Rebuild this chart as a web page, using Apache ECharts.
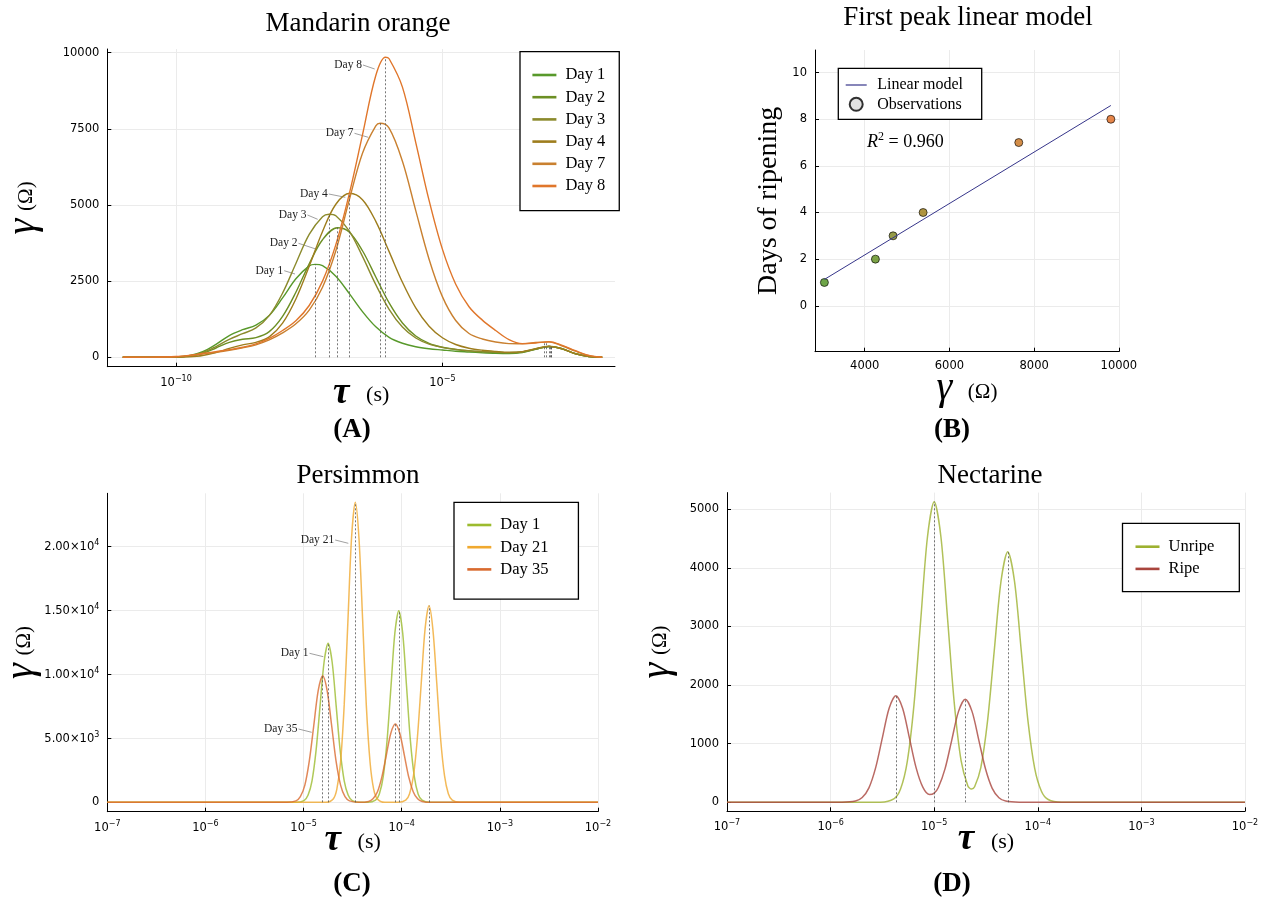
<!DOCTYPE html>
<html><head><meta charset="utf-8">
<script src="https://cdn.jsdelivr.net/npm/echarts@6.0.0/dist/echarts.min.js"></script>
<style>html,body{margin:0;padding:0;background:#fff}#c{width:1275px;height:900px}</style>
</head><body><div id="c"></div>
<script>
// ---------- Panel A: Mandarin orange (x = log10 tau) ----------
const logTauMandarin = [-11, -10.5, -10, -9.75, -9.5, -9.25, -9, -8.75, -8.5, -8.25, -8, -7.75, -7.5, -7.25, -7, -6.75, -6.5, -6.25, -6, -5.75, -5.5, -5.25, -5, -4.75, -4.5, -4.25, -4, -3.75, -3.5, -3.25, -3, -2.75, -2.5, -2.25, -2];
const mandarinDay1 = [0, 1, 11, 52, 182, 425, 714, 905, 1057, 1376, 1948, 2577, 3001, 3010, 2662, 2098, 1499, 999, 654, 461, 345, 279, 239, 200, 175, 150, 131, 123, 156, 262, 356, 280, 117, 27, 0];
const mandarinDay2 = [0, 1, 8, 38, 132, 305, 492, 593, 644, 841, 1342, 2135, 3068, 3860, 4240, 4116, 3498, 2636, 1784, 1127, 699, 458, 330, 257, 211, 180, 161, 148, 174, 271, 356, 277, 116, 26, 0];
const mandarinDay3 = [0, 1, 8, 45, 150, 352, 590, 774, 963, 1366, 2107, 3080, 4033, 4616, 4645, 4150, 3311, 2384, 1576, 993, 633, 433, 325, 260, 216, 187, 166, 152, 175, 270, 355, 277, 119, 27, 0];
const mandarinDay4 = [0, 0, 3, 14, 57, 156, 292, 407, 491, 672, 1121, 1914, 2988, 4130, 5025, 5383, 5175, 4460, 3469, 2463, 1623, 1018, 640, 419, 297, 231, 192, 166, 187, 285, 365, 274, 114, 25, 0];
const mandarinDay7 = [0, 3, 20, 55, 110, 165, 230, 310, 410, 570, 800, 1100, 1550, 2300, 3500, 5150, 6700, 7600, 7523, 6435, 4815, 3221, 1991, 1207, 780, 600, 500, 450, 445, 485, 505, 370, 200, 55, 0];
const mandarinDay8 = [0, 4, 25, 65, 125, 185, 250, 330, 440, 620, 880, 1200, 1700, 2500, 3700, 5350, 7300, 9250, 9800, 8870, 7050, 5150, 3550, 2400, 1660, 1220, 880, 580, 450, 470, 510, 390, 215, 65, 0];
const mandarinDays = ['Day 1', 'Day 2', 'Day 3', 'Day 4', 'Day 7', 'Day 8'];
const mandarinPeakTau = [-7.39, -6.97, -7.125, -6.74, -6.17, -6.07];
const mandarinPeakVal = [3050, 4255, 4695, 5384, 7682, 9850];
const mandarinTailTau = [-2.95, -2.95, -2.97, -3.0, -3.08, -3.05];
const mandarinTailVal = [358, 358, 356, 365, 510, 512];
const mandarinTicksX = [-10, -5];
const mandarinTicksY = [0, 2500, 5000, 7500, 10000];

// ---------- Panel B: First peak linear model ----------
const firstPeakGamma = [3049, 4253, 4670, 5379, 7637, 9811];
const ripeningDays = [1, 2, 3, 4, 7, 8];
const linearGamma = [3049, 9811];
const linearDays = [1.13, 8.59];
const modelTicksX = [4000, 6000, 8000, 10000];
const modelTicksY = [0, 2, 4, 6, 8, 10];

// ---------- Panel C: Persimmon ----------
const persDay1Tau = [-7, -5.078, -4.996, -4.955, -4.914, -4.873, -4.832, -4.791, -4.75, -4.709, -4.668, -4.627, -4.586, -4.545, -4.504, -4.422, -4.346, -4.267, -4.228, -4.188, -4.149, -4.109, -4.07, -4.03, -3.99, -3.951, -3.912, -3.872, -3.833, -3.793, -3.714, -2];
const persDay1Val = [0, 0, 138, 544, 1678, 4026, 7521, 10943, 12400, 10943, 7521, 4026, 1678, 544, 138, 0, 0, 166, 656, 2023, 4854, 9067, 13193, 14950, 13193, 9067, 4854, 2023, 656, 166, 0, 0];
const persDay21Tau = [-7, -4.773, -4.698, -4.661, -4.623, -4.586, -4.548, -4.511, -4.473, -4.436, -4.398, -4.361, -4.323, -4.286, -4.248, -4.173, -4.038, -3.959, -3.92, -3.88, -3.841, -3.801, -3.762, -3.722, -3.683, -3.643, -3.604, -3.564, -3.525, -3.485, -3.406, -2];
const persDay21Val = [0, 0, 260, 1027, 3166, 7598, 14192, 20650, 23400, 20650, 14192, 7598, 3166, 1027, 260, 0, 0, 170, 673, 2075, 4979, 9301, 13533, 15335, 13533, 9301, 4979, 2075, 673, 170, 0, 0];
const persDay35Tau = [-7, -5.169, -5.078, -5.033, -4.987, -4.942, -4.896, -4.851, -4.805, -4.76, -4.714, -4.669, -4.623, -4.578, -4.532, -4.441, -4.429, -4.338, -4.293, -4.247, -4.202, -4.156, -4.111, -4.065, -4.02, -3.974, -3.929, -3.883, -3.838, -3.792, -3.701, -2];
const persDay35Val = [0, 0, 110, 434, 1336, 3206, 5989, 8715, 9875, 8715, 5989, 3206, 1336, 434, 110, 0, 0, 68, 268, 826, 1983, 3704, 5389, 6107, 5389, 3704, 1983, 826, 268, 68, 0, 0];
const persDays = ['Day 1', 'Day 21', 'Day 35'];
const persPeakTau = [-4.75, -4.03, -4.473, -3.722, -4.805, -4.065];
const persPeakVal = [12400, 14950, 23400, 15335, 9875, 6107];
const persTicksY = [0, 5000, 10000, 15000, 20000];

// ---------- Panel D: Nectarine ----------
const nectUnripeTau = [-7, -5.52, -5.39, -5.325, -5.26, -5.195, -5.13, -5.065, -5.0, -4.935, -4.87, -4.805, -4.74, -4.675, -4.64, -4.61, -4.55, -4.485, -4.42, -4.355, -4.29, -4.225, -4.16, -4.095, -4.03, -3.965, -3.9, -3.77, -2];
const nectUnripeVal = [0, 2, 57, 225, 694, 1666, 3111, 4527, 5130, 4527, 3111, 1668, 705, 278, 226, 264, 592, 1390, 2593, 3774, 4276, 3774, 2593, 1388, 579, 188, 47, 1, 0];
const nectRipeTau = [-7, -5.89, -5.76, -5.695, -5.63, -5.565, -5.5, -5.435, -5.37, -5.305, -5.24, -5.175, -5.11, -5.045, -5.0, -4.96, -4.895, -4.83, -4.765, -4.7, -4.635, -4.57, -4.505, -4.44, -4.375, -4.31, -4.18, -2];
const nectRipeVal = [0, 1, 20, 80, 246, 591, 1103, 1605, 1819, 1605, 1103, 591, 258, 132, 155, 251, 574, 1066, 1551, 1758, 1551, 1066, 571, 238, 77, 20, 1, 0];
const nectNames = ['Unripe', 'Ripe'];
const nectPeakTau = [-5.0, -4.29, -5.37, -4.7];
const nectPeakVal = [5130, 4276, 1819, 1758];
const nectTicksY = [0, 1000, 2000, 3000, 4000, 5000];

// ---------- styling ----------
const SERIF = "'Liberation Serif', 'DejaVu Serif', serif";
const SANS = "'DejaVu Sans', sans-serif";
const colA = ['#58992b', '#6c8f24', '#8b8a2c', '#9e7d1d', '#c98030', '#e0762b'];
const obsColors = ['#4a8f1a', '#5b8c19', '#7b821a', '#9c7a10', '#c8711a', '#e0681d'];
const colC = ['#9cbb2e', '#f0a92f', '#d96a2f'];
const colD = ['#9db130', '#a9453d'];

const minus = n => (n < 0 ? '\u2212' + (-n) : '' + n);
const rich = {
  b: { fontFamily: SANS, fontSize: 11.5, color: '#000', verticalAlign: 'bottom' },
  s: { fontFamily: SANS, fontSize: 8, color: '#000', verticalAlign: 'bottom', padding: [0, 0, 6, 0] }
};
const powLabel = v => '{b|10}{s|' + minus(Math.round(v)) + '}';
const sciLabel = v => {
  if (v === 0) return '{b|0}';
  const e = Math.floor(Math.log10(v) + 1e-9);
  return '{b|' + (v / Math.pow(10, e)).toFixed(2) + '\u00d710}{s|' + e + '}';
};

function axisBase(gridIndex) {
  return {
    gridIndex, type: 'value', nameMoveOverlap: false,
    axisLine: { show: true, onZero: false, lineStyle: { color: '#000', width: 1 } },
    axisTick: { show: true, inside: true, length: 4, lineStyle: { color: '#000', width: 1 } },
    splitLine: { show: true, lineStyle: { color: '#ebebeb', width: 1 } },
    axisLabel: { color: '#000', fontFamily: SANS, fontSize: 11.5, margin: 8, rich: rich },
    nameLocation: 'middle'
  };
}
const gammaName = '{g|\u03b3}{sp|  }{o|(\u03a9)}';
const gammaNameWide = '{g|\u03b3}{sp|    }{o|(\u03a9)}';
const gammaRich = {
  g: { fontFamily: SERIF, fontStyle: 'italic', fontSize: 40, color: '#000', verticalAlign: 'bottom' },
  sp: { fontSize: 14, verticalAlign: 'bottom' },
  o: { fontFamily: SERIF, fontSize: 21, color: '#000', verticalAlign: 'bottom', padding: [0, 0, 6, 0] }
};
const tauName = '{t|\u03c4}{sp|   }{o|(s)}';
const tauRich = {
  t: { fontFamily: SERIF, fontStyle: 'italic', fontWeight: 'bold', fontSize: 37, color: '#000', verticalAlign: 'bottom' },
  sp: { fontSize: 20, verticalAlign: 'bottom' },
  o: { fontFamily: SERIF, fontSize: 22, color: '#000', verticalAlign: 'bottom', padding: [0, 0, 5, 0] }
};

function mergePeak(grid, vals, pTau, pVal) {
  const pts = [];
  grid.forEach((t, i) => { if (Math.abs(t - pTau) > 0.04) pts.push([t, vals[i]]); });
  pts.push([pTau, pVal]);
  pts.sort((a, b) => a[0] - b[0]);
  return pts;
}
const zip = (xs, ys) => xs.map((x, i) => [x, ys[i]]);
const dotted = { silent: true, symbol: 'none', animation: false, label: { show: false },
  lineStyle: { color: '#555', type: [2, 2], width: 0.8 } };
const vlines = (taus, vals) => taus.map((t, i) => [{ coord: [t, 0] }, { coord: [t, vals[i]] }]);

const series = [];
const mandarinData = [mandarinDay1, mandarinDay2, mandarinDay3, mandarinDay4, mandarinDay7, mandarinDay8];
mandarinDays.forEach((d, i) => {
  series.push({
    type: 'line', name: 'A:' + d, xAxisIndex: 0, yAxisIndex: 0,
    data: mergePeak(logTauMandarin, mandarinData[i], mandarinPeakTau[i], mandarinPeakVal[i]),
    smooth: 0.35, symbol: 'none', clip: true,
    lineStyle: { color: colA[i], width: 1.4 }, itemStyle: { color: colA[i] },
    markLine: Object.assign({}, dotted, { data: vlines([mandarinPeakTau[i], mandarinTailTau[i]], [mandarinPeakVal[i], mandarinTailVal[i]]) })
  });
});
series.push({
  type: 'line', name: 'B:Linear model', xAxisIndex: 1, yAxisIndex: 1,
  data: zip(linearGamma, linearDays), symbol: 'none',
  lineStyle: { color: '#36358a', width: 1 }, itemStyle: { color: '#36358a' }
});
series.push({
  type: 'scatter', name: 'B:Observations', xAxisIndex: 1, yAxisIndex: 1, symbolSize: 8,
  itemStyle: { color: '#d9d9d9', borderColor: '#000', borderWidth: 0.8 },
  data: firstPeakGamma.map((g, i) => ({ value: [g, ripeningDays[i]], itemStyle: { color: obsColors[i] } }))
});
const persData = [[persDay1Tau, persDay1Val], [persDay21Tau, persDay21Val], [persDay35Tau, persDay35Val]];
persDays.forEach((d, i) => {
  const s = {
    type: 'line', name: 'C:' + d, xAxisIndex: 2, yAxisIndex: 2,
    data: zip(persData[i][0], persData[i][1]), smooth: 0.3, symbol: 'none',
    lineStyle: { color: colC[i], width: 1.5, opacity: 0.8 }, itemStyle: { color: colC[i] }
  };
  if (i === 0) s.markLine = Object.assign({}, dotted, { data: vlines(persPeakTau, persPeakVal) });
  series.push(s);
});
const nectData = [[nectUnripeTau, nectUnripeVal], [nectRipeTau, nectRipeVal]];
nectNames.forEach((d, i) => {
  const s = {
    type: 'line', name: 'D:' + d, xAxisIndex: 3, yAxisIndex: 3,
    data: zip(nectData[i][0], nectData[i][1]), smooth: 0.3, symbol: 'none',
    lineStyle: { color: colD[i], width: 1.5, opacity: 0.8 }, itemStyle: { color: colD[i] }
  };
  if (i === 0) s.markLine = Object.assign({}, dotted, { data: vlines(nectPeakTau, nectPeakVal) });
  series.push(s);
});

const xA = Object.assign(axisBase(0), { min: -11.29, max: -1.76, name: tauName, nameGap: 8, nameTextStyle: { rich: tauRich } });
xA.axisTick.customValues = mandarinTicksX; xA.axisLabel.customValues = mandarinTicksX; xA.axisLabel.formatter = powLabel;
const yA = Object.assign(axisBase(0), { min: -309, max: 10121, name: gammaName, nameGap: 64, nameRotate: 90, nameTextStyle: { rich: gammaRich } });
yA.axisTick.customValues = mandarinTicksY; yA.axisLabel.customValues = mandarinTicksY; yA.axisLabel.formatter = v => '{b|' + v + '}';

const xB = Object.assign(axisBase(1), { min: 2827, max: 10003, name: gammaNameWide, nameGap: 17, nameTextStyle: { rich: gammaRich } });
xB.axisTick.customValues = modelTicksX; xB.axisLabel.customValues = modelTicksX; xB.axisLabel.formatter = v => '{b|' + v + '}';
const yB = Object.assign(axisBase(1), { min: -1.97, max: 10.97, name: 'Days of ripening', nameGap: 32, nameRotate: 90,
  nameTextStyle: { fontFamily: SERIF, fontSize: 28, color: '#000' } });
yB.axisTick.customValues = modelTicksY; yB.axisLabel.customValues = modelTicksY; yB.axisLabel.formatter = v => '{b|' + v + '}';

const xC = Object.assign(axisBase(2), { min: -7, max: -2, interval: 1, name: tauName, nameGap: 10, nameTextStyle: { rich: tauRich } });
xC.axisLabel.formatter = powLabel;
const yC = Object.assign(axisBase(2), { min: -733, max: 24103, name: gammaName, nameGap: 66, nameRotate: 90, nameTextStyle: { rich: gammaRich } });
yC.axisTick.customValues = persTicksY; yC.axisLabel.customValues = persTicksY; yC.axisLabel.formatter = sciLabel;

const xD = Object.assign(axisBase(3), { min: -7, max: -2, interval: 1, name: tauName, nameGap: 10, nameTextStyle: { rich: tauRich } });
xD.axisLabel.formatter = powLabel;
const yD = Object.assign(axisBase(3), { min: -154, max: 5284, name: gammaName, nameGap: 50, nameRotate: 90, nameTextStyle: { rich: gammaRich } });
yD.axisTick.customValues = nectTicksY; yD.axisLabel.customValues = nectTicksY; yD.axisLabel.formatter = v => '{b|' + v + '}';

const legendBase = {
  orient: 'vertical', backgroundColor: '#fff', borderColor: '#000', borderWidth: 1.3, borderRadius: 0,
  formatter: n => n.slice(2), selectedMode: false, icon: 'rect',
  textStyle: { fontFamily: SERIF, fontSize: 16.5, color: '#000', padding: [0, 0, 0, 4], lineHeight: 18 },
  itemHeight: 2.6, itemGap: 4.2, itemWidth: 24
};
const legendPlain = {
  orient: 'vertical', formatter: n => n.slice(2), selectedMode: false, padding: 0, borderWidth: 0,
  itemWidth: 21, textStyle: { fontFamily: SERIF, fontSize: 16, color: '#000', padding: [0, 0, 0, 5.6], lineHeight: 16 }
};
const titleStyle = { fontFamily: SERIF, fontSize: 27, fontWeight: 'normal', color: '#000' };

const option = {
  animation: false,
  backgroundColor: '#fff',
  title: [
    { text: 'Mandarin orange', left: 353, top: 5, textAlign: 'center', textStyle: titleStyle },
    { text: 'First peak linear model', left: 963, top: -1, textAlign: 'center', textStyle: titleStyle },
    { text: 'Persimmon', left: 353, top: 457, textAlign: 'center', textStyle: titleStyle },
    { text: 'Nectarine', left: 985, top: 457, textAlign: 'center', textStyle: titleStyle }
  ],
  grid: [
    { left: 107.3, top: 49, width: 507.7, height: 317.7 },
    { left: 815, top: 50, width: 304, height: 301.7 },
    { left: 107.3, top: 493.3, width: 490.7, height: 318.4 },
    { left: 727, top: 492.6, width: 518, height: 318.7 }
  ],
  xAxis: [xA, xB, xC, xD],
  yAxis: [yA, yB, yC, yD],
  legend: [
    Object.assign({}, legendBase, { data: mandarinDays.map(d => 'A:' + d), left: 520, top: 51.7, padding: [14.3, 14, 15.7, 12.4] }),
    Object.assign({}, legendPlain, { data: ['B:Linear model'], left: 845.7, top: 77, icon: 'rect', itemHeight: 1.2 }),
    Object.assign({}, legendPlain, { data: ['B:Observations'], left: 848.7, top: 96.3, icon: 'circle', itemHeight: 13, itemWidth: 15,
      textStyle: { fontFamily: SERIF, fontSize: 16, color: '#000', padding: [0, 0, 0, 8.6], lineHeight: 16 } }),
    Object.assign({}, legendBase, { data: persDays.map(d => 'C:' + d), left: 454, top: 502.3, padding: [13.7, 30, 20.7, 13.3] }),
    Object.assign({}, legendBase, { data: nectNames.map(d => 'D:' + d), left: 1122.5, top: 523.3, padding: [14.4, 25, 13.7, 13] })
  ],
  series: series
};

const chart = echarts.init(document.getElementById('c'), null, { renderer: 'canvas' });
chart.setOption(option);

// annotations, legend frame for (B) and panel labels (positioned in pixels)
const annFont = "11.5px " + SERIF;
const ann = (text, tx, ty, lx, ly) => [
  { type: 'text', x: tx - 1, y: ty, style: { text: text, font: annFont, fill: '#222', align: 'right', verticalAlign: 'middle' } },
  { type: 'line', shape: { x1: tx, y1: ty, x2: lx, y2: ly }, style: { stroke: '#777', lineWidth: 0.7 } }
];
const panelLabel = (t, x, y) => ({ type: 'text', x: x, y: y, style: { text: t, font: "bold 27px " + SERIF, fill: '#000', align: 'center', verticalAlign: 'middle' } });
const graphics = [].concat(
  [{ type: 'rect', z: 3, shape: { x: 838.3, y: 68.3, width: 143.4, height: 51 }, style: { fill: '#fff', stroke: '#000', lineWidth: 1.3 } }],
  ann('Day 8', 363, 65, 374.7, 69),
  ann('Day 7', 354.5, 133.3, 368.3, 137.3),
  ann('Day 4', 328.8, 194, 345.3, 197.3),
  ann('Day 3', 307.5, 215, 317.7, 219.3),
  ann('Day 2', 298.5, 243.3, 316.7, 249.3),
  ann('Day 1', 284.2, 270.7, 295, 274),
  ann('Day 21', 335.2, 540, 348.3, 543.3),
  ann('Day 1', 309.5, 653.3, 323.3, 656.7),
  ann('Day 35', 298.5, 729, 311.7, 732.3),
  [panelLabel('(A)', 352, 430), panelLabel('(B)', 952, 430), panelLabel('(C)', 352, 884), panelLabel('(D)', 952, 884),
   { type: 'text', x: 867, y: 141, style: {
      text: '{i|R}{s|2}{n| = 0.960}', align: 'left', verticalAlign: 'middle',
      rich: { i: { fontFamily: SERIF, fontStyle: 'italic', fontSize: 18, fill: '#000', verticalAlign: 'bottom' },
              s: { fontFamily: SERIF, fontSize: 12, fill: '#000', verticalAlign: 'bottom', padding: [0, 0, 8, 0] },
              n: { fontFamily: SERIF, fontSize: 18, fill: '#000', verticalAlign: 'bottom' } } } }]
);
chart.setOption({ graphic: graphics });
</script></body></html>
